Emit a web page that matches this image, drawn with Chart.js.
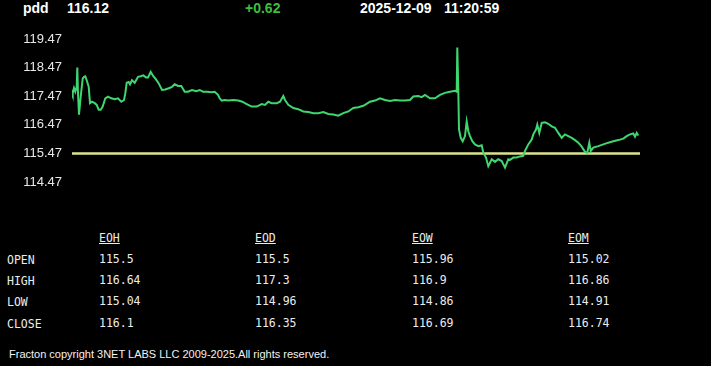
<!DOCTYPE html>
<html>
<head>
<meta charset="utf-8">
<script src="https://cdn.jsdelivr.net/npm/chart.js@4.4.1/dist/chart.umd.min.js"></script>
<style>
    body { margin: 0; background: #000; width: 711px; height: 366px; overflow: hidden; position: relative; }
    .hdr { position: absolute; top: 0; line-height: 18px; font: bold 14px "Liberation Sans", Arial, sans-serif; color: #fff; white-space: nowrap; }
    .cell { position: absolute; line-height: 14px; font: 11.5px "DejaVu Sans Mono", monospace; color: #ececec; white-space: nowrap; }
    .cell.head { text-decoration: underline; }
    #footer { position: absolute; left: 9px; top: 348px; line-height: 14px; font: 11px "Liberation Sans", Arial, sans-serif; color: #f2f2f2; white-space: nowrap; }
    #chartBox { position: absolute; left: 0; top: 0; }
</style>
</head>
<body>
<div class="hdr" style="left:23px">pdd</div>
<div class="hdr" id="lastPrice" style="left:67px"></div>
<div class="hdr" id="change" style="left:245px;color:#3cbf3c"></div>
<div class="hdr" style="left:360px">2025-12-09</div>
<div class="hdr" style="left:444px">11:20:59</div>
<canvas id="chartBox" width="711" height="200"></canvas>
<div id="table"></div>
<div id="footer">Fracton copyright 3NET LABS LLC 2009-2025.All rights reserved.</div>

<script>
const lastPrice = 116.12;
const change = 0.62;
const prevClose = 115.47;

const yTicks = [114.47, 115.47, 116.47, 117.47, 118.47, 119.47];

// minutes into the session / price
const times = [0, 0.7, 2, 3.3, 4.7, 5.3, 6, 7, 8.7, 10.7, 12, 13.3, 14.7, 16.7, 18, 20, 22.7, 24.7, 26.7, 28.7,
    30.7, 33.3, 36, 39.3, 42.7, 46, 49.3, 52, 53.3, 54.7, 56.7, 58, 60, 62.7, 66, 68.7, 71.3, 74, 76, 78.7,
    81.3, 84, 86.7, 90, 93.3, 96.7, 100, 102.7, 106, 109.3, 112.7, 116, 120, 124.3, 127.7, 131, 135.3, 139.3, 142.7, 146,
    147.7, 149.7, 153, 156.3, 161.3, 166.3, 170.3, 174.7, 179.7, 184.7, 189.7, 193, 196.3, 199.7, 204.7, 208, 211.3, 213, 216.3, 221.3,
    226.3, 231.3, 236.3, 241.3, 246.3, 251.3, 256.3, 261.3, 266.3, 271.3, 276.3, 281.3, 286.3, 291.3, 293, 298, 303, 308, 313, 318,
    323, 328, 333, 338, 341.3, 346.3, 349.7, 353, 358, 363, 368, 373, 378, 383, 384.7, 385.3, 386.3, 387, 388.7, 390.7,
    393, 394.7, 396.3, 398, 400.3, 403, 406.3, 409.7, 411.3, 414, 416.3, 419.7, 423, 426.3, 429.7, 433, 436.3, 438, 441.3, 444.7,
    448, 451.3, 453, 456.3, 459.7, 461.3, 464, 465.3, 467.3, 469.7, 473, 476.3, 479.7, 483, 486.3, 489.7, 493, 496.3, 499.7, 503,
    506.3, 509.7, 513, 515.3, 517.3, 518.7, 521.3, 526.3, 531.3, 536.3, 541.3, 546.3, 551.3, 554.7, 558, 561.3, 563, 564.7, 566.3];
const prices = [117.69, 117.58, 117.76, 117.63, 117.80, 118.47, 117.58, 116.83, 117.46, 118.09, 118.15, 118.17, 118.03, 117.80, 117.23, 117.28, 117.23, 117.17, 117.00, 117.00,
    117.11, 117.40, 117.46, 117.40, 117.37, 117.40, 117.28, 117.34, 117.57, 117.94, 117.97, 117.89, 118.03, 117.94, 118.15, 118.17, 118.20, 118.13, 118.13, 118.32,
    118.17, 118.06, 117.92, 117.69, 117.71, 117.75, 117.80, 117.89, 117.83, 117.83, 117.63, 117.63, 117.69, 117.65, 117.69, 117.63, 117.63, 117.61, 117.63, 117.52,
    117.40, 117.32, 117.34, 117.32, 117.34, 117.32, 117.28, 117.20, 117.11, 117.11, 117.20, 117.17, 117.28, 117.23, 117.23, 117.28, 117.48, 117.34, 117.17, 117.06,
    117.02, 116.94, 116.92, 116.88, 116.88, 116.92, 116.85, 116.83, 116.79, 116.88, 116.94, 117.06, 117.09, 117.14, 117.17, 117.28, 117.32, 117.40, 117.34, 117.31,
    117.34, 117.32, 117.32, 117.34, 117.46, 117.48, 117.44, 117.52, 117.40, 117.40, 117.52, 117.59, 117.63, 117.66, 117.63, 119.17, 117.69, 116.31, 116.02, 115.90,
    116.08, 116.59, 116.25, 116.08, 115.90, 115.79, 115.73, 115.76, 115.50, 115.33, 115.03, 115.27, 115.18, 115.27, 115.21, 114.98, 115.27, 115.25, 115.33, 115.33,
    115.37, 115.39, 115.56, 115.79, 115.96, 116.14, 116.31, 116.48, 116.19, 116.54, 116.56, 116.51, 116.42, 116.37, 116.19, 116.02, 116.14, 116.08, 116.02, 115.94,
    115.85, 115.71, 115.53, 115.50, 115.85, 115.56, 115.68, 115.73, 115.79, 115.85, 115.90, 115.94, 115.99, 116.08, 116.14, 116.17, 116.06, 116.19, 116.10];
const sessionEnd = 568;

const rowLabels = ["OPEN", "HIGH", "LOW", "CLOSE"];
const colHeaders = ["EOH", "EOD", "EOW", "EOM"];
const eoh = ["115.5", "116.64", "115.04", "116.1"];
const eod = ["115.5", "117.3", "114.96", "116.35"];
const eow = ["115.96", "116.9", "114.86", "116.69"];
const eom = ["115.02", "116.86", "114.91", "116.74"];

document.getElementById('lastPrice').textContent = lastPrice.toFixed(2);
document.getElementById('change').textContent = (change >= 0 ? '+' : '') + change.toFixed(2);

function renderTable() {
    const table = document.getElementById('table');
    const colX = [99, 255, 412, 568];
    const rowY = [253, 274, 295, 317];
    const cols = [eoh, eod, eow, eom];
    let html = '';
    colHeaders.forEach((h, i) => {
        html += `<div class="cell head" style="left:${colX[i]}px;top:231px">${h}</div>`;
    });
    rowLabels.forEach((label, r) => {
        html += `<div class="cell" style="left:7px;top:${rowY[r]}px">${label}</div>`;
        cols.forEach((col, c) => {
            html += `<div class="cell" style="left:${colX[c]}px;top:${rowY[r] - 1}px">${col[r]}</div>`;
        });
    });
    table.innerHTML = html;
}
renderTable();

let chart = new Chart("chartBox", {
    type: "line",
    data: {
        datasets: [{
            data: times.map((t, i) => ({ x: t, y: prices[i] })),
            borderColor: "#3fd670",
            borderWidth: 2,
            pointRadius: 0,
            tension: 0
        }, {
            data: [{ x: 0, y: prevClose }, { x: sessionEnd, y: prevClose }],
            borderColor: "#dde488",
            borderWidth: 2.5,
            pointRadius: 0
        }]
    },
    options: {
        responsive: false,
        animation: false,
        layout: { padding: { top: 39, right: 71, bottom: 16, left: 0 } },
        plugins: { legend: { display: false }, tooltip: { enabled: false } },
        scales: {
            x: { type: "linear", min: 0, max: sessionEnd, display: false },
            y: {
                min: yTicks[0],
                max: yTicks[yTicks.length - 1],
                grid: { display: false, drawTicks: false },
                border: { display: false },
                afterFit: (scale) => { scale.width = 72; },
                afterBuildTicks: (scale) => { scale.ticks = yTicks.map(v => ({ value: v })); },
                ticks: {
                    padding: 10,
                    color: "#e8e8e8",
                    font: { family: "'Liberation Sans', Arial", size: 13 },
                    callback: (v) => v.toFixed(2)
                }
            }
        }
    }
});
</script>
</body>
</html>
